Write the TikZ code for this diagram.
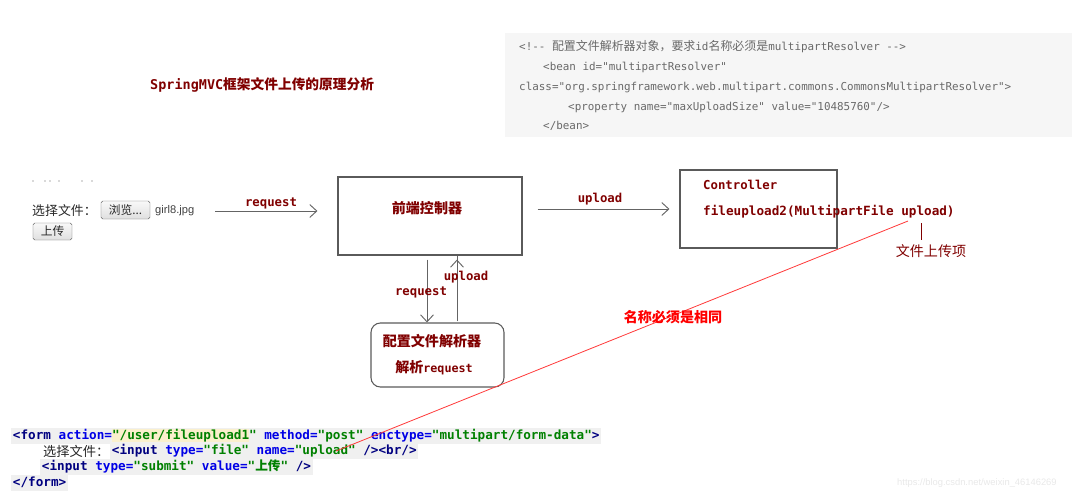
\documentclass[tikz,border=0pt]{standalone}
\usepackage{fontspec}
\setsansfont{Liberation Sans}
\setmonofont{DejaVu Sans Mono}
\newfontfamily\cjk{Noto Sans CJK SC}
\usetikzlibrary{arrows.meta}

\definecolor{darkred}{RGB}{128,0,0}
\definecolor{boxc}{RGB}{90,90,90}
\definecolor{arrc}{RGB}{100,100,100}
\definecolor{cfgbg}{RGB}{246,246,246}
\definecolor{cfgtext}{RGB}{105,105,105}
\definecolor{linebg}{RGB}{240,240,240}
\definecolor{hlbg}{RGB}{250,240,205}
\definecolor{tagc}{RGB}{0,0,128}
\definecolor{attrc}{RGB}{0,0,230}
\definecolor{valc}{RGB}{0,128,0}
\definecolor{redln}{RGB}{255,60,60}

\newcommand\fsz[1]{\fontsize{#1}{#1}\selectfont}
\newcommand\tg[1]{\textcolor{tagc}{#1}}
\newcommand\atr[1]{\textcolor{attrc}{#1}}
\newcommand\vl[1]{\textcolor{valc}{#1}}

\begin{document}
\begin{tikzpicture}[
  x=0.03cm, y=-0.03cm,
  box/.style={draw=boxc, line width=0.9pt, minimum width=5.52cm, minimum height=2.34cm},
  lab/.style={font=\ttfamily\bfseries\fsz{10.5}, text=darkred, inner sep=0pt},
  zh/.style={font=\cjk\bfseries\fsz{12}, text=darkred, inner sep=0pt},
  cfgline/.style={anchor=west, font=\ttfamily\fsz{9.3}, text=cfgtext, inner sep=0pt},
  codeline/.style={anchor=west, fill=linebg, inner xsep=1.5pt, inner ysep=1pt,
                   font=\ttfamily\bfseries\fsz{10.8}, text height=8.5pt, text depth=2.5pt},
  btn/.style={draw=gray!80!black, rounded corners=1.5pt, top color=gray!5, bottom color=gray!25,
              font=\cjk\fsz{10}, text=black!85, inner sep=0pt},
  arrow/.style={-{Straight Barb[length=6pt,width=11pt]}, draw=arrc, line width=0.8pt},
]
\useasboundingbox (0,0) rectangle (1080,495);

% Config snippet, top right
\fill[cfgbg] (505,33) rectangle (1072,137);
\node[cfgline] (c1) at (519,47) {<!-- {\cjk\fsz{10.2}配置文件解析器对象，要求}id{\cjk\fsz{10.2}名称必须是}multipartResolver -->};
\node[cfgline] (c2) at (543,67) {<bean id="multipartResolver"};
\node[cfgline] (c3) at (519,87) {class="org.springframework.web.multipart.commons.CommonsMultipartResolver">};
\node[cfgline] (c4) at (568,107) {<property name="maxUploadSize" value="10485760"/>};
\node[cfgline] (c5) at (543,126) {</bean>};

% Title
\node[lab, anchor=west, font=\ttfamily\bfseries\fsz{11.5}] (ttl) at (150,85)
  {SpringMVC{\cjk\bfseries\fsz{11.7}框架文件上传的原理分析}};

% Upload form (browser)
\foreach \x in {33,45,50,59,82,92} \fill[gray!60] (\x,181) circle (0.7pt);
\node[anchor=west, font=\cjk\fsz{11}, text=black!85, inner sep=0pt] (choose) at (32,211) {选择文件：};
\node[btn, minimum width=1.47cm, minimum height=0.54cm] (browse) at (125.5,210) {浏览...};
\node[anchor=west, font=\sffamily\fsz{9.5}, text=black!75, inner sep=0pt] (girl) at (155,211) {girl8.jpg};
\node[btn, minimum width=1.17cm, minimum height=0.51cm] (submit) at (52.5,231.5) {上传};

% Front controller
\node[box] (fc) at (430,216) {};
\node[zh] (fctext) at (427,208) {前端控制器};
\draw[arrow, shorten <=0.63cm, shorten >=0.6cm] (girl.east) -- (fc.west |- girl.east);
\node[lab] (req1) at (271,203) {request};

% Controller
\node[box, minimum width=4.71cm] (ctrl) at (758.5,209) {};
\node[lab, anchor=west] (ctrlname) at (703,185) {Controller};
\node[lab, anchor=west, font=\ttfamily\bfseries\fsz{10.8}] (method) at (703,212) {fileupload2(MultipartFile upload)};
\draw[arrow, shorten <=0.45cm, shorten >=0.3cm] (fc.east |- ctrl.west) -- (ctrl.west);
\node[lab] (up1) at (600,199) {upload};

% File item
\coordinate (cur) at (921,223);
\draw[darkred, line width=0.6pt] (cur) -- ++(0,17);
\node[zh, font=\cjk\fsz{12}] (item) at (931,251) {文件上传项};

% Multipart resolver
\node[box, rounded corners=8pt, minimum width=3.99cm, minimum height=1.92cm] (rs) at (437.5,355) {};
\node[zh] (rstext) at (432,341) {配置文件解析器};
\node[lab, font=\ttfamily\bfseries\fsz{10}] (rsparse) at (434,368) {{\cjk\bfseries\fsz{12}解析}request};
\draw[arrow] (fc.south) ++(-3,4) coordinate (d0) -- (d0 |- rs.north);
\draw[arrow] (rs.north) ++(19.5,-1) coordinate (u0) -- (u0 |- fc.south) ++(0,4);
\node[lab] (req2) at (421,292) {request};
\node[lab] (up2) at (466,277) {upload};

% Form source code
\node[codeline] (f1) at (11,436) {\tg{<form} \atr{action=}{\setlength\fboxsep{0pt}\colorbox{hlbg}{\vl{"/user/fileupload1}}}\vl{"} \atr{method=}\vl{"post"} \atr{enctype=}\vl{"multipart/form-data"}\tg{>}};
\node[anchor=west, font=\cjk\fsz{11.3}, text=black!85, inner sep=0pt] (f2a) at (43,451) {选择文件：};
\node[codeline] (f2) at (110,451) {\tg{<input} \atr{type=}\vl{"file"} \atr{name=}\vl{"upload"} \tg{/><br/>}};
\node[codeline] (f3) at (40,467) {\tg{<input} \atr{type=}\vl{"submit"} \atr{value=}\vl{"{\cjk\bfseries 上传}"} \tg{/>}};
\node[codeline] (f4) at (11,483) {\tg{</form>}};

% Same name link
\coordinate (pa) at (908,221);
\coordinate (pb) at (336,451);
\draw[redln, line width=0.7pt] (pa) -- (pb);
\node[zh, text=red] (same) at (673,317) {名称必须是相同};

% Watermark
\node[anchor=west, font=\sffamily\fsz{8}, text=gray!18, inner sep=0pt] (wm) at (897,483) {https://blog.csdn.net/weixin\_46146269};

\end{tikzpicture}
\end{document}
